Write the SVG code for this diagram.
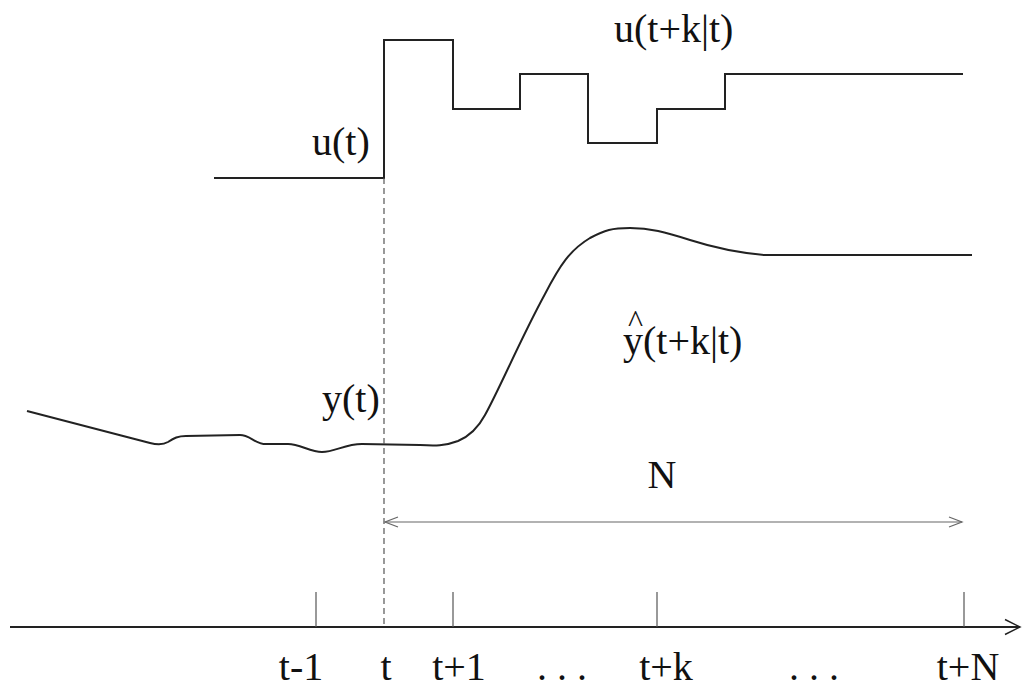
<svg xmlns="http://www.w3.org/2000/svg" width="1022" height="690" viewBox="0 0 1022 690">
<defs>
<style>
.curve{fill:none;stroke:#222;stroke-width:2;stroke-linejoin:miter}
.tick{fill:none;stroke:#555;stroke-width:1.2}
.lbl{font-family:"Liberation Serif","Times New Roman",serif;font-size:40px;fill:#111}
.dash{fill:none;stroke:#555;stroke-width:1.2;stroke-dasharray:6,4}
</style>
<marker id="openR" markerWidth="16" markerHeight="12" refX="14" refY="6" orient="auto" markerUnits="userSpaceOnUse">
<path d="M1,1 L14,6 L1,11" fill="none" stroke="#666" stroke-width="1.2"/>
</marker>
<marker id="openL" markerWidth="16" markerHeight="12" refX="2" refY="6" orient="auto" markerUnits="userSpaceOnUse">
<path d="M15,1 L2,6 L15,11" fill="none" stroke="#666" stroke-width="1.2"/>
</marker>
<marker id="axisArrow" markerWidth="20" markerHeight="18" refX="17" refY="9" orient="auto" markerUnits="userSpaceOnUse">
<path d="M2,1.5 L17,9 L2,16.5" fill="none" stroke="#222" stroke-width="1.5"/>
</marker>
</defs>
<rect width="1022" height="690" fill="#fff"/>

<g id="u-signal">
<path class="curve" d="M214,178 L384,178 L384,40 L453,40 L453,109 L520,109 L520,74 L588,74 L588,143 L657,143 L657,109 L725,109 L725,74 L963,74"/>
<text class="lbl" x="312" y="155">u(t)</text>
<text class="lbl" x="614" y="42">u(t+k|t)</text>
</g>

<g id="y-signal">
<path class="curve" d="M27,411 L150,443 C158,445 163,445 168,442 C174,438 178,436 186,436 L240,435 C250,435 255,444 266,444 L288,444 C300,444 310,452 322,452 C335,452 345,444 362,444 L420,445 C435,446 445,446 458,441 C470,436 478,428 485,415 C500,388 520,340 545,294 C560,265 570,250 590,238 C605,230 612,228 630,228 C650,228 665,232 690,240 C715,248 740,253 765,255 L972,255"/>
<text class="lbl" x="322" y="412">y(t)</text>
<text class="lbl" x="623" y="354"><tspan x="628" y="332" style="font-size:32px">^</tspan><tspan x="623" y="354">y(t+k|t)</tspan></text>
</g>

<g id="connectors">
<line class="dash" x1="384" y1="178" x2="384" y2="628"/>
<line x1="385" y1="522" x2="962" y2="522" stroke="#666" stroke-width="1.2" marker-start="url(#openL)" marker-end="url(#openR)"/>
<line x1="10" y1="627" x2="1020" y2="627" stroke="#222" stroke-width="1.8" marker-end="url(#axisArrow)"/>
<line class="tick" x1="316" y1="592" x2="316" y2="627"/>
<line class="tick" x1="453" y1="592" x2="453" y2="627"/>
<line class="tick" x1="657" y1="592" x2="657" y2="627"/>
<line class="tick" x1="964" y1="592" x2="964" y2="627"/>
</g>

<g id="labels">
<text class="lbl" x="662" y="488" text-anchor="middle">N</text>
<text class="lbl" x="301" y="680" text-anchor="middle">t-1</text>
<text class="lbl" x="386" y="680" text-anchor="middle">t</text>
<text class="lbl" x="459" y="680" text-anchor="middle">t+1</text>
<text class="lbl" x="562" y="680" text-anchor="middle">. . .</text>
<text class="lbl" x="666" y="680" text-anchor="middle">t+k</text>
<text class="lbl" x="814" y="680" text-anchor="middle">. . .</text>
<text class="lbl" x="968" y="680" text-anchor="middle">t+N</text>
</g>
</svg>
